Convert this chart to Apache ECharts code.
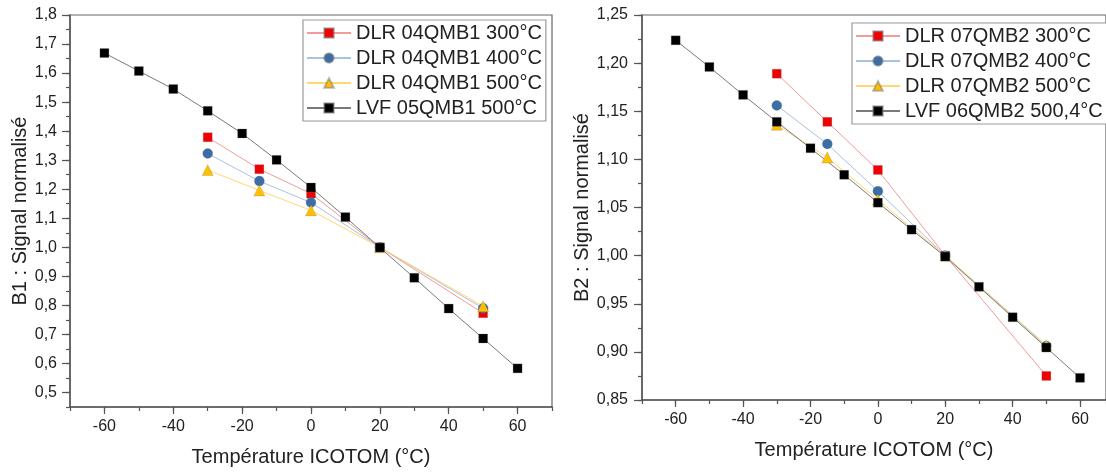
<!DOCTYPE html>
<html>
<head>
<meta charset="utf-8">
<script src="https://cdn.jsdelivr.net/npm/echarts@6/dist/echarts.min.js"></script>
<style>html,body{margin:0;padding:0;background:#fff}#c{width:1106px;height:472px}</style>
</head>
<body>
<div id="c"></div>
<script>
// ---- data ----
const xDLR = [-30, -15, 0, 20, 50];
const xLVF = [-60, -50, -40, -30, -20, -10, 0, 10, 20, 30, 40, 50, 60];

const namesB1 = ['DLR 04QMB1 300°C', 'DLR 04QMB1 400°C', 'DLR 04QMB1 500°C', 'LVF 05QMB1 500°C'];
const b1_dlr300 = [1.379, 1.269, 1.185, 1.0, 0.773];
const b1_dlr400 = [1.323, 1.228, 1.154, 1.0, 0.790];
const b1_dlr500 = [1.266, 1.196, 1.127, 1.0, 0.797];
const b1_lvf500 = [1.669, 1.607, 1.545, 1.470, 1.392, 1.301, 1.206, 1.104, 0.999, 0.895, 0.789, 0.686, 0.583];

const namesB2 = ['DLR 07QMB2 300°C', 'DLR 07QMB2 400°C', 'DLR 07QMB2 500°C', 'LVF 06QMB2 500,4°C'];
const b2_dlr300 = [1.189, 1.139, 1.089, 1.0, 0.875];
const b2_dlr400 = [1.156, 1.116, 1.067, 1.0, 0.906];
const b2_dlr500 = [1.136, 1.102, 1.058, 1.0, 0.907];
const b2_lvf500 = [1.2237, 1.196, 1.167, 1.139, 1.1116, 1.084, 1.055, 1.027, 0.999, 0.9676, 0.936, 0.9045, 0.873];

const xTickLabels = [-60, -40, -20, 0, 20, 40, 60];
const yTickLabelsB1 = [0.5, 0.6, 0.7, 0.8, 0.9, 1.0, 1.1, 1.2, 1.3, 1.4, 1.5, 1.6, 1.7, 1.8];
const yTickLabelsB2 = [0.85, 0.90, 0.95, 1.00, 1.05, 1.10, 1.15, 1.20, 1.25];

const xTitle = 'Température ICOTOM (°C)';
const yTitleB1 = 'B1 : Signal normalisé';
const yTitleB2 = 'B2 : Signal normalisé';

// ---- styles ----
const FONT = 'Liberation Sans, Arial, sans-serif';
const TXT = '#222';
const AX = '#555';
const styles = [
  {line: '#f39a9a', mark: '#f00000', symbol: 'rect', size: 9},
  {line: '#a9c2de', mark: '#3b6ea5', symbol: 'circle', size: 10},
  {line: '#ffd870', mark: '#ffc000', symbol: 'triangle', size: 11},
  {line: '#7a7a7a', mark: '#000000', symbol: 'rect', size: 9}
];

function pairs(xs, ys) { return xs.map((x, i) => [x, ys[i]]); }
function mkSeries(name, xs, ys, st, idx) {
  return {
    type: 'line', name: name, data: pairs(xs, ys),
    xAxisIndex: idx, yAxisIndex: idx,
    symbol: st.symbol, symbolSize: st.size,
    lineStyle: {color: st.line, width: 1},
    itemStyle: {color: st.mark, borderColor: 'rgba(120,120,120,0.5)', borderWidth: 0.5},
    emphasis: {disabled: true}, animation: false
  };
}

const fmt1 = v => v.toFixed(1).replace('.', ',');
const fmt2 = v => v.toFixed(2).replace('.', ',');

function xAxes(grid, xmax, nameGap) {
  return [
    {gridIndex: grid, type: 'value', position: 'bottom', min: -70, max: xmax, interval: 10,
     axisLine: {show: true, onZero: false, lineStyle: {color: AX, width: 1.5}},
     axisTick: {show: true, length: 4, lineStyle: {color: AX, width: 1.2}},
     axisLabel: {show: false}, splitLine: {show: false}},
    {gridIndex: grid, type: 'value', position: 'bottom', min: -70, max: xmax,
     axisLine: {show: false, onZero: false},
     axisTick: {show: true, length: 7, customValues: xTickLabels, lineStyle: {color: AX, width: 1.2}},
     axisLabel: {show: true, customValues: xTickLabels, margin: 12, fontSize: 16, fontFamily: FONT, color: TXT},
     splitLine: {show: false},
     name: xTitle, nameLocation: 'middle', nameGap: nameGap,
     nameTextStyle: {fontSize: 20, fontFamily: FONT, color: TXT}}
  ];
}
function yAxes(grid, min, max, minorInt, labels, f, title, nameGap, margin) {
  return [
    {gridIndex: grid, type: 'value', position: 'left', min: min, max: max, interval: minorInt,
     axisLine: {show: true, onZero: false, lineStyle: {color: AX, width: 1.5}},
     axisTick: {show: true, length: 4, lineStyle: {color: AX, width: 1.2}},
     axisLabel: {show: false}, splitLine: {show: false}},
    {gridIndex: grid, type: 'value', position: 'left', min: min, max: max,
     axisLine: {show: false, onZero: false},
     axisTick: {show: true, length: 8, customValues: labels, lineStyle: {color: AX, width: 1.2}},
     axisLabel: {show: true, customValues: labels, formatter: f, margin: margin, fontSize: 16, fontFamily: FONT, color: TXT},
     splitLine: {show: false},
     name: title, nameLocation: 'middle', nameGap: nameGap, nameRotate: 90,
     nameTextStyle: {fontSize: 20, fontFamily: FONT, color: TXT}}
  ];
}

const legendBase = {
  orient: 'vertical', itemWidth: 44, itemHeight: 12, itemGap: 5,
  padding: [3, 4, 3, 3], borderColor: '#999', borderWidth: 1.2, backgroundColor: '#fff',
  textStyle: {fontSize: 20, fontFamily: FONT, color: TXT, lineHeight: 20},
  selectedMode: false
};

const option = {
  animation: false,
  backgroundColor: '#fff',
  grid: [
    {left: 70, top: 15, width: 482, height: 392, show: true, borderColor: '#666', borderWidth: 1.2, backgroundColor: 'transparent'},
    {left: 642, top: 15, right: 0, height: 385, show: true, borderColor: '#666', borderWidth: 1.2, backgroundColor: 'transparent'}
  ],
  legend: [
    Object.assign({}, legendBase, {left: 303, top: 20, data: namesB1}),
    Object.assign({}, legendBase, {left: 852, top: 23, data: namesB2})
  ],
  xAxis: [].concat(xAxes(0, 70, 40), xAxes(1, 67.7, 40)),
  yAxis: [].concat(
    yAxes(0, 0.45, 1.8, 0.05, yTickLabelsB1, fmt1, yTitleB1, 40, 13),
    yAxes(1, 0.85, 1.25, 0.025, yTickLabelsB2, fmt2, yTitleB2, 49, 14)
  ),
  series: [
    mkSeries(namesB1[0], xDLR, b1_dlr300, styles[0], 0),
    mkSeries(namesB1[1], xDLR, b1_dlr400, styles[1], 0),
    mkSeries(namesB1[2], xDLR, b1_dlr500, styles[2], 0),
    mkSeries(namesB1[3], xLVF, b1_lvf500, styles[3], 0),
    mkSeries(namesB2[0], xDLR, b2_dlr300, styles[0], 2),
    mkSeries(namesB2[1], xDLR, b2_dlr400, styles[1], 2),
    mkSeries(namesB2[2], xDLR, b2_dlr500, styles[2], 2),
    mkSeries(namesB2[3], xLVF, b2_lvf500, styles[3], 2)
  ]
};
const chart = echarts.init(document.getElementById('c'), null, {renderer: 'canvas'});
chart.setOption(option);
</script>
</body>
</html>
